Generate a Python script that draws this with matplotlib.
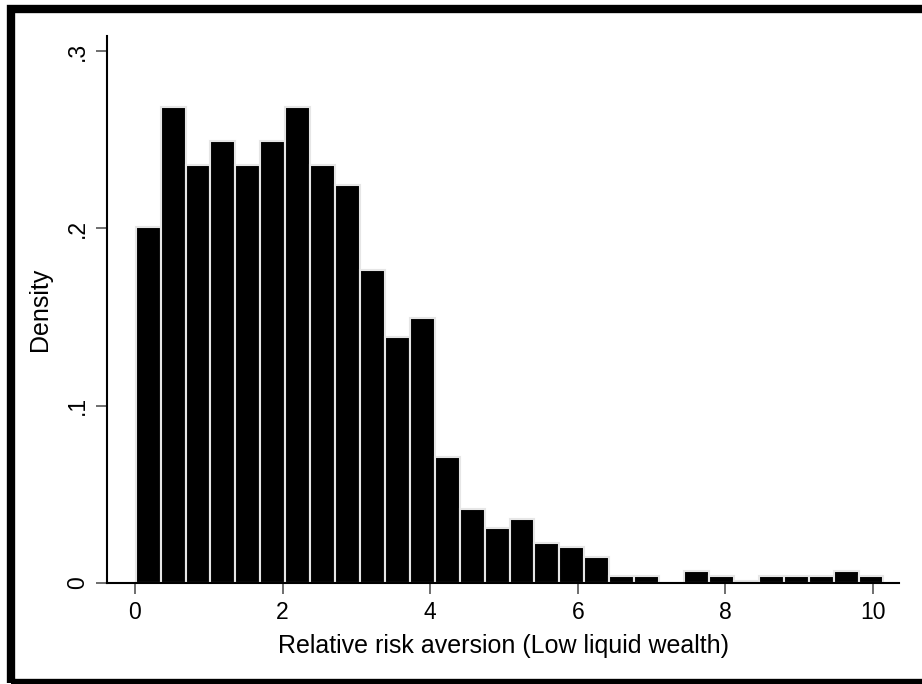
import numpy as np
import matplotlib.pyplot as plt
from matplotlib.patches import Rectangle

# histogram bins
bin_start = 0.01
bin_width = 0.3377
density = [0.2007, 0.2685, 0.2360, 0.2493, 0.2360, 0.2493, 0.2685, 0.2360,
           0.2245, 0.1765, 0.1388, 0.1494, 0.0710, 0.0416, 0.0309, 0.0362,
           0.0228, 0.0202, 0.0147, 0.0038, 0.0038, 0.0, 0.0066, 0.0038,
           0.0010, 0.0038, 0.0038, 0.0038, 0.0066, 0.0038]

x_ticks = [0, 2, 4, 6, 8, 10]
y_ticks = [0, 0.1, 0.2, 0.3]
y_tick_labels = ["0", ".1", ".2", ".3"]

plt.rcParams['font.family'] = ['Liberation Sans', 'DejaVu Sans']

fig = plt.figure(figsize=(9.22, 6.84), dpi=100)
ax = fig.add_axes([107 / 922, 1 - 583 / 684, (899 - 107) / 922, (583 - 36) / 684])

lefts = bin_start + bin_width * np.arange(len(density))
ax.bar(lefts, density, width=bin_width, align='edge', color='black',
       edgecolor='#e6e6e6', linewidth=1.5)

ax.set_xlim(-0.379, 10.352)
ax.set_ylim(0, 0.3085)
ax.set_xticks(x_ticks)
ax.set_xticklabels([str(t) for t in x_ticks])
ax.set_yticks(y_ticks)
ax.set_yticklabels(y_tick_labels, rotation=90, va='center')

for s in ['top', 'right']:
    ax.spines[s].set_visible(False)
for s in ['left', 'bottom']:
    ax.spines[s].set_linewidth(1.5)
    ax.spines[s].set_color('black')

ax.tick_params(axis='both', direction='out', length=8, width=1.2,
               color='#555555', labelsize=16.5, pad=5)

ax.set_xlabel("Relative risk aversion (Low liquid wealth)", fontsize=18, labelpad=7)
ax.set_ylabel("Density", fontsize=18, labelpad=10)

# thick black frame around the graph (right side runs off the image)
fig.patches.append(Rectangle((11 / 922, 1.5 / 684), 1.1, 1 - 10.5 / 684,
                             transform=fig.transFigure, fill=False,
                             edgecolor='black', linewidth=6, zorder=10))

fig.savefig("out.png", dpi=100)
